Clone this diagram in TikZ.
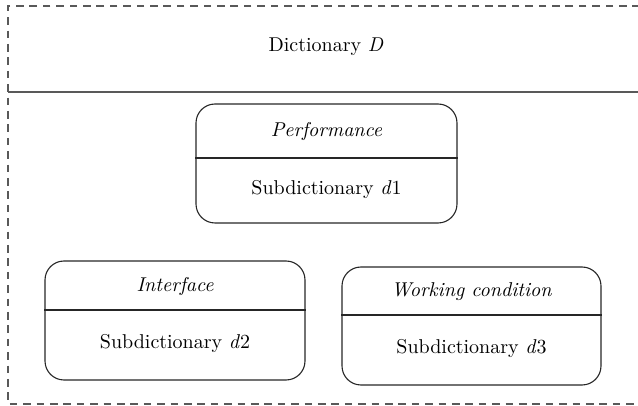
\documentclass[tikz,border=0pt]{standalone}
\usepackage{amsmath}
\usepackage{tikz}
\usetikzlibrary{calc}
\tikzset{%
  subbox/.style={draw=black!85,line width=0.55pt,rounded corners=9.5pt,inner sep=0},
  boxtitle/.style={font=\itshape,inner sep=1},
  boxlabel/.style={inner sep=1},
  sepline/.style={draw=black!85,line width=0.55pt},
  frameline/.style={draw=black!65,line width=0.7pt,dash pattern=on 3.8pt off 2.9pt}
}

\begin{document}
\begin{tikzpicture}[x=0.5pt,y=-0.5pt]
    \useasboundingbox (0,0) rectangle (638,406);
    % outer frame
    \coordinate (ftr) at (640,6);
    \coordinate (ftl) at (8,6);
    \coordinate (fbl) at (8,404);
    \coordinate (fbr) at (640,404);
    \draw[frameline] (ftr) -- (ftl) -- (fbl) -- (fbr);
    \coordinate (hl) at (8,92);
    \coordinate (hr) at (640,92);
    \draw[draw=black!65,line width=0.9pt] (hl) -- (hr);
    \node[boxlabel] (dict) at (326,47) {Dictionary \textit{D}};
    % subdictionaries
    \node[subbox,minimum width=130.5pt,minimum height=59.5pt] (perf) at (326.5,163.5) {};
    \node[subbox,minimum width=130pt,minimum height=59.5pt] (intf) at (175,320.5) {};
    \node[subbox,minimum width=129.5pt,minimum height=59pt] (work) at (471.5,326) {};
    \node[boxtitle] (perft) at (326.5,132) {Performance};
    \node[boxlabel] (perfs) at (326.5,190) {Subdictionary \textit{d}1};
    \node[boxtitle] (intft) at (175,287) {Interface};
    \node[boxlabel] (intfs) at (175,344) {Subdictionary \textit{d}2};
    \node[boxtitle] (workt) at (471.5,292) {Working condition};
    \node[boxlabel] (works) at (471.5,349) {Subdictionary \textit{d}3};
    \draw[sepline] (perf.west |- 0,158) -- (perf.east |- 0,158);
    \draw[sepline] (intf.west |- 0,310) -- (intf.east |- 0,310);
    \draw[sepline] (work.west |- 0,315) -- (work.east |- 0,315);
  \end{tikzpicture}
\end{document}
